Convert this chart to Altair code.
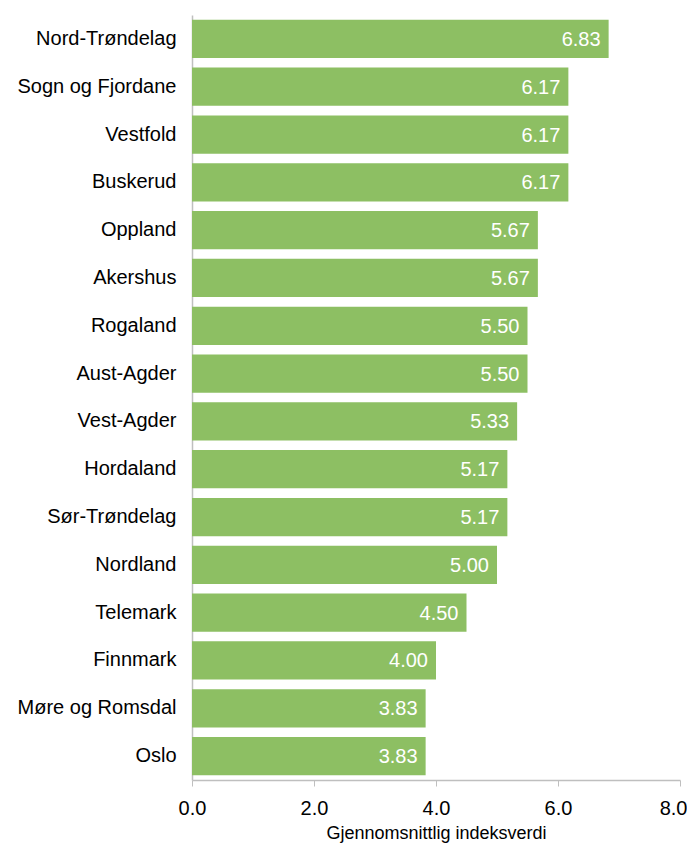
import altair as alt
import pandas as pd

regions = ["Nord-Trøndelag", "Sogn og Fjordane", "Vestfold", "Buskerud", "Oppland",
           "Akershus", "Rogaland", "Aust-Agder", "Vest-Agder", "Hordaland",
           "Sør-Trøndelag", "Nordland", "Telemark", "Finnmark", "Møre og Romsdal", "Oslo"]
values = [6.83, 6.17, 6.17, 6.17, 5.67, 5.67, 5.50, 5.50, 5.33, 5.17, 5.17, 5.00,
          4.50, 4.00, 3.83, 3.83]
x_ticks = [0, 2, 4, 6, 8]

df = pd.DataFrame({"region": regions, "value": values})
df["label"] = [f"{v:.2f}" for v in values]

font = "Liberation Sans"
y_enc = alt.Y("region:N", sort=regions, title=None,
              scale=alt.Scale(paddingInner=0.2, paddingOuter=0.1),
              axis=alt.Axis(ticks=False, labelPadding=16, labelFontSize=20,
                            labelColor="#000000", labelFont=font,
                            domainColor="#BFBFBF", domainWidth=1.5))

bars = alt.Chart(df).mark_bar(color="#8DBF63").encode(
    x=alt.X("value:Q", title="Gjennomsnittlig indeksverdi",
            scale=alt.Scale(domain=[0, 8], nice=False),
            axis=alt.Axis(values=x_ticks, format=".1f", grid=False, labelFlush=False,
                          labelAlign=alt.ExprRef("datum.value == 8 ? 'right' : 'center'"),
                          labelOffset=alt.ExprRef("datum.value == 8 ? 7 : 0"),
                          tickSize=6, tickColor="#BFBFBF", domainColor="#BFBFBF",
                          domainWidth=1.5, labelFontSize=20, labelColor="#000000",
                          labelFont=font, labelPadding=12, titleFont=font,
                          titleFontSize=18, titleFontWeight="normal",
                          titleColor="#000000", titlePadding=6)),
    y=y_enc,
)

text = alt.Chart(df).mark_text(align="right", baseline="middle", dx=-8, dy=1,
                               color="white", fontSize=20, font=font).encode(
    x="value:Q",
    y=alt.Y("region:N", sort=regions),
    text="label:N",
)

chart = (bars + text).properties(
    width=488, height=765,
    autosize=alt.AutoSizeParams(type="none"),
    padding={"left": 184, "top": 7, "right": 7, "bottom": 66},
).configure_view(stroke=None)

chart.save("out.html", embed_options={"renderer": "svg", "actions": False})
